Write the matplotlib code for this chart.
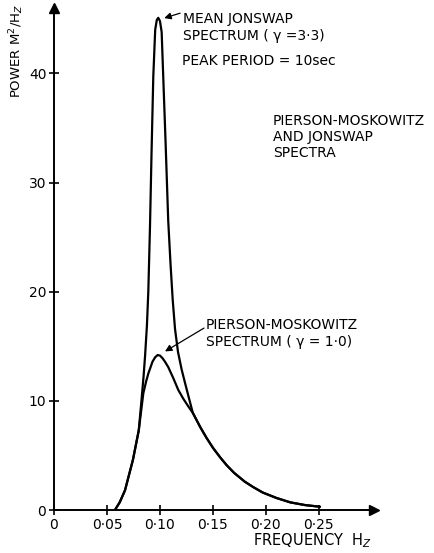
import matplotlib
matplotlib.use("Agg")
import matplotlib.pyplot as plt

# curves (frequency in Hz, power in m^2/Hz)
pm_freq = [0.0575, 0.062, 0.067, 0.0745, 0.080, 0.0843, 0.087, 0.089, 0.093, 0.0955,
           0.0978, 0.1, 0.1025, 0.105, 0.1078, 0.1125, 0.1173, 0.122, 0.1267, 0.131,
           0.138, 0.144, 0.150, 0.157, 0.163, 0.170, 0.180, 0.188, 0.197, 0.210, 0.223,
           0.237, 0.251]
pm_power = [0.0, 0.7, 1.8, 4.6, 7.3, 10.7, 11.8, 12.5, 13.6, 14.0,
            14.2, 14.15, 13.9, 13.55, 13.1, 12.1, 11.0, 10.2, 9.5, 8.9,
            7.6, 6.6, 5.7, 4.8, 4.1, 3.4, 2.6, 2.1, 1.6, 1.1, 0.7,
            0.45, 0.3]

js_freq = [0.0575, 0.062, 0.067, 0.0745, 0.080, 0.0827, 0.0845, 0.086, 0.0877, 0.089,
           0.0906, 0.092, 0.0937, 0.0955, 0.097, 0.0984, 0.100, 0.1016, 0.1031,
           0.1053, 0.1078, 0.110, 0.112, 0.1142, 0.117, 0.1204, 0.1235, 0.1267,
           0.131, 0.138, 0.144, 0.150, 0.157, 0.163, 0.170, 0.180, 0.188, 0.197,
           0.210, 0.223, 0.237, 0.251]
js_power = [0.0, 0.7, 1.8, 4.6, 7.3, 10.2, 12.2, 14.2, 16.9, 20.0,
            26.0, 32.5, 39.7, 44.0, 44.9, 45.1, 44.8, 43.8, 39.7,
            33.7, 26.5, 22.5, 19.3, 16.6, 14.5, 12.9, 11.7, 10.5,
            8.9, 7.6, 6.6, 5.7, 4.8, 4.1, 3.4, 2.6, 2.1, 1.6,
            1.1, 0.7, 0.45, 0.3]

xticks = [0, 0.05, 0.10, 0.15, 0.20, 0.25]
xlabels = ["0", "0·05", "0·10", "0·15", "0·20", "0·25"]
yticks = [0, 10, 20, 30, 40]

fig = plt.figure(figsize=(4.35, 5.53), dpi=100)
ax = fig.add_axes([54 / 435, 43 / 553, 320 / 435, 502 / 553])

ax.plot(pm_freq, pm_power, color="black", lw=1.6, solid_capstyle="round")
ax.plot(js_freq, js_power, color="black", lw=1.6, solid_capstyle="round")

ax.set_xlim(0, 0.302)
ax.set_ylim(0, 46)
for s in ["top", "right"]:
    ax.spines[s].set_visible(False)
for s in ["left", "bottom"]:
    ax.spines[s].set_linewidth(1.4)
ax.plot(1, 0, ">k", ms=7, transform=ax.get_yaxis_transform(), clip_on=False)
ax.plot(0, 1, "^k", ms=7, transform=ax.get_xaxis_transform(), clip_on=False)

ax.set_xticks(xticks)
ax.set_xticklabels(xlabels)
ax.set_yticks(yticks)
ax.tick_params(direction="inout", length=7, width=1.2, labelsize=10, pad=2)

# annotations
fs = 10
ax.text(0.1217, 45.6, "MEAN JONSWAP\nSPECTRUM ( γ =3·3)", fontsize=fs,
        va="top", ha="left", linespacing=1.25)
ax.annotate("", xy=(0.1015, 45.0), xytext=(0.1215, 45.6),
            arrowprops=dict(arrowstyle="-|>", color="black", lw=0.9))
ax.text(0.1207, 41.1, "PEAK PERIOD = 10sec", fontsize=fs, va="center", ha="left")
ax.text(0.2066, 36.3, "PIERSON-MOSKOWITZ\nAND JONSWAP\nSPECTRA", fontsize=fs,
        va="top", ha="left", linespacing=1.2)
ax.text(0.1434, 17.6, "PIERSON-MOSKOWITZ\nSPECTRUM ( γ = 1·0)", fontsize=fs,
        va="top", ha="left", linespacing=1.25)
ax.annotate("", xy=(0.1025, 14.4), xytext=(0.1438, 16.8),
            arrowprops=dict(arrowstyle="-|>", color="black", lw=0.9))

fig.text(17 / 435, 1 - 51 / 553, "POWER M$^2$/H$_Z$", rotation=90,
         fontsize=9.5, ha="center", va="center")
fig.text(253 / 435, 1 - 541 / 553, "FREQUENCY  H$_Z$", fontsize=10.5,
         ha="left", va="center")

fig.savefig("out.png", dpi=100)
